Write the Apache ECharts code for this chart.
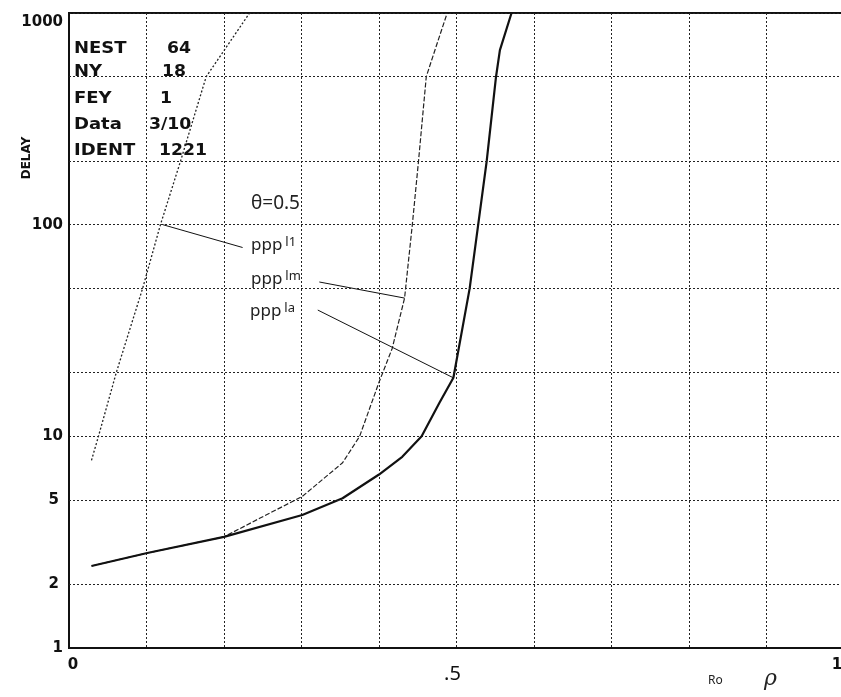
<!DOCTYPE html>
<html>
<head>
<meta charset="utf-8">
<script src="https://cdn.jsdelivr.net/npm/echarts@6/dist/echarts.min.js"></script>
<style>
  html, body { margin: 0; padding: 0; background: #fff; }
  #chart { width: 841px; height: 697px; }
</style>
</head>
<body>
<div id="chart"></div>
<script>
// values: [rho, delay]
const curveL1 = [[0.029, 7.7], [0.038, 10], [0.061, 20], [0.095, 50], [0.118, 100], [0.144, 200], [0.177, 500], [0.233, 1000]];
const curveLm = [[0.029, 2.44], [0.101, 2.81], [0.2, 3.35], [0.246, 4.1], [0.301, 5.2], [0.353, 7.5], [0.375, 10], [0.4, 18], [0.417, 26], [0.433, 45], [0.443, 100], [0.451, 200], [0.461, 500], [0.468, 600], [0.488, 1000]];
const curveLa = [[0.029, 2.44], [0.101, 2.81], [0.2, 3.35], [0.301, 4.25], [0.353, 5.1], [0.4, 6.6], [0.43, 8.0], [0.455, 10], [0.478, 14.4], [0.496, 18.9], [0.517, 50], [0.528, 100], [0.539, 200], [0.551, 500], [0.556, 668], [0.571, 1000]];

// leader lines from the curve labels
const leaderL1 = [[0.121, 100], [0.224, 78]];
const leaderLm = [[0.323, 53.6], [0.433, 45]];
const leaderLa = [[0.321, 39.5], [0.496, 18.9]];

// extra horizontal grid lines (log axis only draws decades)
const minorGrid = [2, 5, 20, 50, 200, 500];
const minorLabelled = [2, 5];
const xLabelled = { '0': '{p|0}', '0.5': '{s|.5}', '1': '{q|1}' };

const infoRows = [['NEST', '64', 167], ['NY', '18', 162], ['FEY', '1', 160], ['Data', '3/10', 149], ['IDENT', '1221', 159]];
const infoY = [50, 73, 100, 126, 152];

const chart = echarts.init(document.getElementById('chart'));

const plotFont = 'DejaVu Sans';
const dotted = { color: '#222', width: 1, type: [2, 2] };

const leader = (pts) => [{ coord: pts[0] }, { coord: pts[1] }];
const pppLabel = (sub, left, top) => ({
  type: 'text', left: left, top: top,
  style: {
    text: '{a|ppp}{b|' + sub + '}',
    rich: {
      a: { font: '17px Noto Sans', fill: '#222', padding: [5, 3, 0, 0] },
      b: { font: '13px Noto Sans', fill: '#222' }
    }
  }
});

const option = {
  animation: false,
  backgroundColor: '#fff',
  grid: {
    left: 69, right: -3, top: 13, bottom: 49,
    outerBoundsMode: 'none', containLabel: false,
    show: true, borderColor: '#111', borderWidth: 2
  },
  xAxis: {
    type: 'value', min: 0, max: 1, interval: 0.1,
    axisLine: { show: true, onZero: false, lineStyle: { color: '#111', width: 2 } },
    axisTick: { show: false },
    splitLine: { show: true, lineStyle: dotted },
    axisLabel: {
      margin: 10,
      showMaxLabel: true,
      formatter: (v) => xLabelled[String(Math.round(v * 10) / 10)] || '',
      rich: {
        p: { fontFamily: plotFont, fontWeight: 'bold', fontSize: 15, color: '#111', padding: [0, 0, 0, 8] },
        q: { fontFamily: plotFont, fontWeight: 'bold', fontSize: 15, color: '#111', padding: [0, 14, 0, 0] },
        s: { fontFamily: 'Noto Sans', fontSize: 20, color: '#111', padding: [6, 8, 0, 0] }
      }
    }
  },
  yAxis: {
    type: 'log', logBase: 10, min: 1, max: 1000,
    axisLine: { show: true, lineStyle: { color: '#111', width: 2 } },
    axisTick: { show: false },
    splitLine: { show: true, lineStyle: dotted },
    axisLabel: {
      margin: 6, color: '#111', fontFamily: plotFont, fontWeight: 'bold', fontSize: 15,
      formatter: (v) => v === 1000 ? '{t|1000}' : String(v),
      rich: { t: { fontFamily: plotFont, fontWeight: 'bold', fontSize: 15, color: '#111', padding: [18, 0, 0, 0] } }
    }
  },
  series: [
    {
      name: 'pppl1', type: 'line', data: curveL1, showSymbol: false,
      lineStyle: { color: '#222', width: 1.3, type: [2, 2] },
      markLine: {
        silent: true, symbol: 'none', label: { show: false },
        lineStyle: { color: '#111', width: 1, type: 'solid' },
        data: [leader(leaderL1), leader(leaderLm), leader(leaderLa)]
      }
    },
    {
      name: 'ppplm', type: 'line', data: curveLm, showSymbol: false,
      lineStyle: { color: '#222', width: 1.2, type: [5, 2] },
      markLine: {
        silent: true, symbol: 'none',
        lineStyle: { color: '#222', width: 1, type: [2, 2] },
        data: minorGrid.map((v) => ({
          yAxis: v,
          label: {
            show: minorLabelled.includes(v), position: 'start', distance: 10,
            formatter: String(v), color: '#111', fontFamily: plotFont, fontWeight: 'bold', fontSize: 15
          }
        }))
      }
    },
    {
      name: 'pppla', type: 'line', data: curveLa, showSymbol: false,
      lineStyle: { color: '#111', width: 2.2, type: 'solid' }
    }
  ],
  graphic: [
    ...infoRows.map((r, i) => ({
      type: 'text', left: 74, top: infoY[i] - 8,
      style: { text: r[0], font: 'bold 15px ' + plotFont, fill: '#111' }, scaleX: 1.2
    })),
    ...infoRows.map((r, i) => ({
      type: 'text', left: r[2], top: infoY[i] - 8,
      style: { text: r[1], font: 'bold 15px ' + plotFont, fill: '#111' }, scaleX: 1.15
    })),
    {
      type: 'text', x: 27, y: 158, rotation: Math.PI / 2,
      style: { text: 'DELAY', font: 'bold 12px ' + plotFont, fill: '#111', align: 'center', verticalAlign: 'middle' }
    },
    {
      type: 'text', left: 251, top: 194,
      style: { text: 'θ=0.5', font: '19px Noto Sans', fill: '#222' }
    },
    pppLabel('l1', 251, 236),
    pppLabel('lm', 251, 270),
    pppLabel('la', 250, 302),
    {
      type: 'text', left: 708, top: 675,
      style: { text: 'Ro', font: '12px Noto Sans', fill: '#222' }
    },
    {
      type: 'text', left: 764, top: 668,
      style: { text: 'ρ', font: 'italic 22px DejaVu Serif', fill: '#222' }
    }
  ]
};

chart.setOption(option);
</script>
</body>
</html>
